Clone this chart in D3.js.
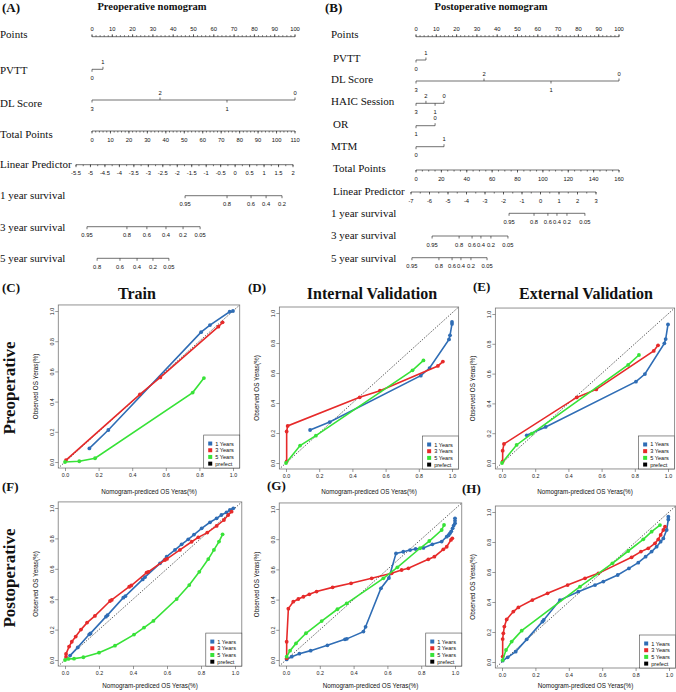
<!DOCTYPE html>
<html lang="en">
<head>
<meta charset="UTF-8" />
<title>Nomograms and calibration</title>
<script src="https://cdn.jsdelivr.net/npm/d3@7"></script>
<style>
  body { margin: 0; background: #fff; }
  svg { display: block; }
</style>
</head>
<body>
<svg id="canvas"></svg>
<script>
// ---------- nomogram data ----------
let pointsTicks = d3.range(0, 101, 10);
let pointsMinor = d3.range(0, 101, 2);

let preTotalTicks = d3.range(0, 111, 10);
let preTotalMinor = d3.range(0, 111, 2);
let preLpTicks = d3.range(-5.5, 2.01, 0.5);
let preLpMinor = d3.range(-5.5, 2.01, 0.25);

let postTotalTicks = d3.range(0, 161, 20);
let postTotalMinor = d3.range(0, 161, 5);
let postLpTicks = d3.range(-7, 3.01, 1);
let postLpMinor = d3.range(-7, 3.01, 0.5);

let prePvttLevels = ["0", "1"];
let prePvttPoints = [0, 5.4];
let preDlLevels = ["3", "2", "1", "0"];
let preDlPoints = [0, 33.5, 66.5, 100];

let postPvttLevels = ["0", "1"];
let postPvttPoints = [0, 4.9];
let postDlLevels = ["3", "2", "1", "0"];
let postDlPoints = [0, 33.5, 66.5, 100];
let postHaicLevels = ["3", "2", "1", "0"];
let postHaicPoints = [0, 4.9, 9.4, 13.8];
let postOrLevels = ["1", "0"];
let postOrPoints = [0, 9.4];
let postMtmLevels = ["0", "1"];
let postMtmPoints = [0, 13.8];

// survival ticks given on the linear predictor axis
let pre1yLabels = ["0.95", "0.8", "0.6", "0.4", "0.2"];
let pre1yLp = [-1.73, -0.28, 0.55, 1.07, 1.62];
let pre3yLabels = ["0.95", "0.8", "0.6", "0.4", "0.2", "0.05"];
let pre3yLp = [-5.12, -3.74, -3.05, -2.39, -1.8, -1.21];
let pre5yLabels = ["0.8", "0.6", "0.4", "0.2", "0.05"];
let pre5yLp = [-4.77, -3.98, -3.39, -2.84, -2.29];

let post1yLabels = ["0.95", "0.8", "0.6", "0.4", "0.2", "0.05"];
let post1yLp = [-1.7, -0.35, 0.4, 0.89, 1.43, 2.4];
let post3yLabels = ["0.95", "0.8", "0.6", "0.4", "0.2", "0.05"];
let post3yLp = [-5.86, -4.4, -3.7, -3.22, -2.68, -1.76];
let post5yLabels = ["0.95", "0.8", "0.6", "0.4", "0.2", "0.05"];
let post5yLp = [-6.95, -5.49, -4.78, -4.3, -3.76, -2.89];

// ---------- calibration data [predicted, observed] ----------
let trainPre1 = [[0.145,0.09],[0.258,0.212],[0.81,0.86],[0.863,0.907],[0.98,0.995],[1.0,1.0]];
let trainPre3 = [[0.006,0.013],[0.446,0.448],[0.567,0.56],[0.913,0.896],[0.938,0.925]];
let trainPre5 = [[0,0],[0.085,0.005],[0.179,0.025],[0.76,0.46],[0.827,0.556]];

let intPre1 = [[0.145,0.22],[0.263,0.273],[0.812,0.582],[0.865,0.633],[0.982,0.824],[0.988,0.851],[1.0,0.927],[1.0,0.94]];
let intPre3 = [[0.004,0.01],[0.004,0.21],[0.01,0.247],[0.444,0.438],[0.566,0.482],[0.915,0.647],[0.945,0.676]];
let intPre5 = [[0,0],[0.085,0.116],[0.18,0.182],[0.762,0.618],[0.828,0.684]];

let extPre1 = [[0.149,0.186],[0.263,0.242],[0.807,0.546],[0.861,0.597],[0.978,0.803],[0.986,0.832],[1.0,0.93]];
let extPre3 = [[0.004,0.01],[0.004,0.083],[0.012,0.128],[0.45,0.44],[0.568,0.494],[0.914,0.752],[0.94,0.79]];
let extPre5 = [[0,0],[0.088,0.121],[0.18,0.197],[0.76,0.658],[0.825,0.725]];

let trainPost1 = [[0.03,0.029],[0.075,0.083],[0.143,0.169],[0.15,0.175],[0.241,0.285],[0.25,0.295],[0.343,0.41],[0.355,0.42],[0.457,0.53],[0.47,0.545],[0.559,0.636],[0.598,0.68],[0.647,0.724],[0.686,0.761],[0.725,0.794],[0.759,0.825],[0.804,0.866],[0.853,0.906],[0.892,0.932],[0.92,0.954],[0.95,0.971],[0.97,0.987],[0.99,0.998]];
let trainPost3 = [[0.006,0.02],[0.006,0.04],[0.024,0.088],[0.04,0.12],[0.063,0.154],[0.094,0.2],[0.13,0.246],[0.176,0.29],[0.265,0.388],[0.275,0.395],[0.378,0.482],[0.39,0.49],[0.48,0.575],[0.49,0.58],[0.588,0.658],[0.6,0.665],[0.676,0.724],[0.745,0.778],[0.784,0.807],[0.837,0.838],[0.892,0.882],[0.935,0.921],[0.96,0.954],[0.98,0.976]];
let trainPost5 = [[0,0],[0.02,0.007],[0.053,0.009],[0.108,0.018],[0.2,0.048],[0.294,0.094],[0.406,0.167],[0.465,0.213],[0.52,0.257],[0.657,0.401],[0.731,0.493],[0.79,0.58],[0.843,0.664],[0.876,0.724],[0.906,0.779],[0.927,0.827]];

let intPost1 = [[0.004,0.004],[0.034,0.022],[0.079,0.042],[0.146,0.062],[0.245,0.097],[0.349,0.137],[0.36,0.14],[0.458,0.188],[0.471,0.22],[0.562,0.475],[0.609,0.543],[0.651,0.706],[0.694,0.717],[0.734,0.728],[0.767,0.735],[0.813,0.742],[0.866,0.766],[0.921,0.784],[0.951,0.817],[0.962,0.826],[0.97,0.839],[0.978,0.852],[0.986,0.872],[0.992,0.89],[1.0,0.905],[1.0,0.922],[1.0,0.938]];
let intPost3 = [[0.004,0.011],[0.004,0.121],[0.014,0.34],[0.043,0.386],[0.073,0.404],[0.103,0.419],[0.138,0.435],[0.181,0.453],[0.276,0.481],[0.385,0.508],[0.507,0.541],[0.625,0.574],[0.684,0.596],[0.724,0.607],[0.842,0.667],[0.878,0.684],[0.931,0.733],[0.951,0.75],[0.976,0.795],[0.984,0.806]];
let intPost5 = [[0.004,0.022],[0.024,0.062],[0.059,0.11],[0.118,0.177],[0.211,0.258],[0.304,0.336],[0.359,0.375],[0.576,0.541],[0.659,0.614],[0.793,0.74],[0.848,0.788],[0.921,0.861],[0.935,0.894]];

let extPost1 = [[0.004,0.009],[0.034,0.031],[0.082,0.069],[0.148,0.151],[0.242,0.269],[0.25,0.28],[0.347,0.413],[0.457,0.469],[0.557,0.513],[0.607,0.536],[0.693,0.58],[0.76,0.624],[0.816,0.662],[0.86,0.702],[0.896,0.736],[0.926,0.769],[0.95,0.802],[0.966,0.824],[0.986,0.88],[0.996,0.95],[0.996,0.969]];
let extPost3 = [[0.004,0.036],[0.004,0.153],[0.008,0.191],[0.014,0.236],[0.028,0.284],[0.068,0.336],[0.098,0.364],[0.182,0.413],[0.273,0.458],[0.393,0.513],[0.497,0.558],[0.577,0.591],[0.776,0.698],[0.832,0.736],[0.876,0.758],[0.916,0.791],[0.936,0.818],[0.95,0.847],[0.966,0.88],[0.976,0.902]];
let extPost5 = [[0.004,0.013],[0.024,0.08],[0.058,0.136],[0.118,0.209],[0.467,0.502],[0.661,0.658],[0.756,0.74],[0.846,0.818],[0.896,0.869],[0.946,0.913]];

let legendLabels = ["1 Years", "3 Years", "5 Years", "prefect"];
let calTicks = [0, 0.2, 0.4, 0.6, 0.8, 1.0];

// ---------- setup ----------
let width = 676;
let height = 692;
let serif = "'Liberation Serif', 'Times New Roman', serif";
let sans = "'Liberation Sans', Arial, sans-serif";
let colors = ["#2F6DB5", "#E62A2A", "#38E238", "#000"];

let svg = d3.select("#canvas").attr("width", width).attr("height", height);

let txt = (g, x, y, s, size, opt = {}) => {
  return g.append("text")
    .attr("x", x).attr("y", y).text(s)
    .attr("font-family", opt.family || sans)
    .attr("font-size", size)
    .attr("font-weight", opt.weight || "normal")
    .attr("text-anchor", opt.anchor || "middle")
    .attr("fill", "#111");
};

let hline = (g, x1, x2, y) => {
  g.append("line").attr("x1", x1).attr("x2", x2).attr("y1", y).attr("y2", y)
    .attr("stroke", "#333").attr("stroke-width", 0.7);
};
let tick = (g, x, y, len) => {
  g.append("line").attr("x1", x).attr("x2", x).attr("y1", y).attr("y2", y + len)
    .attr("stroke", "#333").attr("stroke-width", 0.7);
};
let fmtNum = (v) => String(+v.toFixed(2));

// numeric nomogram axis
let numRow = (g, scale, major, minor, y, above) => {
  let dir = above ? -1 : 1;
  hline(g, scale(major[0]), scale(major[major.length - 1]), y);
  minor.forEach((v) => tick(g, scale(v), y, dir * 1.5));
  major.forEach((v) => {
    tick(g, scale(v), y, dir * 2.5);
    txt(g, scale(v), above ? y - 5.5 : y + 10.5, fmtNum(v), 5.8);
  });
};

// categorical row, labels alternate below / above
let catRow = (g, scale, levels, pts, y) => {
  let xs = pts.map(scale);
  hline(g, d3.min(xs), d3.max(xs), y);
  let order = d3.range(levels.length).sort((i, j) => pts[i] - pts[j]);
  order.forEach((i, k) => {
    let below = k % 2 === 0;
    tick(g, xs[i], y, below ? 2.5 : -2.5);
    txt(g, xs[i], below ? y + 10.5 : y - 5.5, levels[i], 5.8);
  });
};

// survival row, positions from the linear predictor scale
let survRow = (g, lpScale, labels, lps, y) => {
  let xs = lps.map(lpScale);
  hline(g, d3.min(xs), d3.max(xs), y);
  xs.forEach((x, i) => {
    tick(g, x, y, 2.5);
    txt(g, x, y + 10.5, labels[i], 5.8);
  });
};

let rowLabel = (g, x, y, s) => txt(g, x, y, s, 11, { family: serif, anchor: "start" });

// ---------- nomogram A ----------
let drawNomoA = () => {
  let g = svg.append("g");
  txt(g, 2, 12, "(A)", 13, { family: serif, weight: "bold", anchor: "start" });
  txt(g, 152, 10, "Preoperative nomogram", 10.5, { family: serif, weight: "bold" });

  let pts = d3.scaleLinear().domain([0, 100]).range([92, 295]);
  let tot = d3.scaleLinear().domain([0, 110]).range([92, 295]);
  let lp = d3.scaleLinear().domain([-5.5, 2]).range([76, 293]);

  rowLabel(g, 0, 38, "Points");
  numRow(g, pts, pointsTicks, pointsMinor, 36.7, true);
  rowLabel(g, 0, 74, "PVTT");
  catRow(g, pts, prePvttLevels, prePvttPoints, 69.3);
  rowLabel(g, 0, 106.5, "DL Score");
  catRow(g, pts, preDlLevels, preDlPoints, 100);
  rowLabel(g, 0, 138, "Total Points");
  numRow(g, tot, preTotalTicks, preTotalMinor, 131, false);
  rowLabel(g, 0, 168, "Linear Predictor");
  numRow(g, lp, preLpTicks, preLpMinor, 164.7, false);
  rowLabel(g, 0, 199, "1 year survival");
  survRow(g, lp, pre1yLabels, pre1yLp, 195.7);
  rowLabel(g, 0, 230.5, "3 year survival");
  survRow(g, lp, pre3yLabels, pre3yLp, 226.7);
  rowLabel(g, 0, 262, "5 year survival");
  survRow(g, lp, pre5yLabels, pre5yLp, 258.3);
};

// ---------- nomogram B ----------
let drawNomoB = () => {
  let g = svg.append("g");
  txt(g, 325, 12, "(B)", 13, { family: serif, weight: "bold", anchor: "start" });
  txt(g, 491, 10, "Postoperative nomogram", 10.5, { family: serif, weight: "bold" });

  let pts = d3.scaleLinear().domain([0, 100]).range([416, 619]);
  let tot = d3.scaleLinear().domain([0, 160]).range([416, 619]);
  let lp = d3.scaleLinear().domain([-7, 3]).range([411, 596]);

  rowLabel(g, 331, 38, "Points");
  numRow(g, pts, pointsTicks, pointsMinor, 36.7, true);
  rowLabel(g, 333, 61.7, "PVTT");
  catRow(g, pts, postPvttLevels, postPvttPoints, 60);
  rowLabel(g, 331, 83.3, "DL Score");
  catRow(g, pts, postDlLevels, postDlPoints, 81);
  rowLabel(g, 331, 105, "HAIC Session");
  catRow(g, pts, postHaicLevels, postHaicPoints, 103.3);
  rowLabel(g, 333, 128.3, "OR");
  catRow(g, pts, postOrLevels, postOrPoints, 125.7);
  rowLabel(g, 331, 150, "MTM");
  catRow(g, pts, postMtmLevels, postMtmPoints, 146.7);
  rowLabel(g, 333, 171.7, "Total Points");
  numRow(g, tot, postTotalTicks, postTotalMinor, 170, false);
  rowLabel(g, 333, 195, "Linear Predictor");
  numRow(g, lp, postLpTicks, postLpMinor, 192, false);
  rowLabel(g, 331, 216.5, "1 year survival");
  survRow(g, lp, post1yLabels, post1yLp, 213.3);
  rowLabel(g, 331, 239, "3 year survival");
  survRow(g, lp, post3yLabels, post3yLp, 236);
  rowLabel(g, 331, 261.5, "5 year survival");
  survRow(g, lp, post5yLabels, post5yLp, 257.7);
};

// ---------- calibration panels ----------
let drawCal = (p) => {
  let g = svg.append("g");
  let x = d3.scaleLinear().domain([0, 1]).range([p.x0, p.x1]);
  let y = d3.scaleLinear().domain([0, 1]).range([p.y0, p.y1]);
  let L = x(-0.04), R = x(1.04), T = y(1.04), B = y(-0.04);

  let clipId = "clip" + p.id;
  g.append("clipPath").attr("id", clipId).append("rect")
    .attr("x", L).attr("y", T).attr("width", R - L).attr("height", B - T);
  let plot = g.append("g").attr("clip-path", "url(#" + clipId + ")");

  plot.append("line")
    .attr("x1", x(-0.04)).attr("y1", y(-0.04)).attr("x2", x(1.04)).attr("y2", y(1.04))
    .attr("stroke", "#000").attr("stroke-width", 0.8).attr("stroke-dasharray", "1,1.5");

  let line = d3.line().x((d) => x(d[0])).y((d) => y(d[1]));
  p.series.forEach((s, i) => {
    plot.append("path").datum(s).attr("d", line)
      .attr("fill", "none").attr("stroke", colors[i]).attr("stroke-width", 1.6);
    plot.selectAll(null).data(s).enter().append("circle")
      .attr("cx", (d) => x(d[0])).attr("cy", (d) => y(d[1])).attr("r", 1.9)
      .attr("fill", colors[i]);
  });

  g.append("rect").attr("x", L).attr("y", T).attr("width", R - L).attr("height", B - T)
    .attr("fill", "none").attr("stroke", "#777").attr("stroke-width", 0.8);

  let xAxis = d3.axisBottom(x).tickValues(calTicks).tickFormat(d3.format(".1f"))
    .tickSize(3).tickPadding(2.5);
  let xg = g.append("g").attr("transform", "translate(0," + B + ")").call(xAxis);
  let yAxis = d3.axisLeft(y).tickValues(calTicks).tickFormat(d3.format(".1f")).tickSize(3);
  let yg = g.append("g").attr("transform", "translate(" + L + ",0)").call(yAxis);
  [xg, yg].forEach((a) => {
    a.select(".domain").remove();
    a.selectAll("line").attr("stroke", "#555").attr("stroke-width", 0.6);
    a.selectAll("text").attr("font-family", sans).attr("font-size", 5.3).attr("fill", "#222");
  });
  yg.selectAll("text").attr("x", null).attr("dy", null).attr("text-anchor", "middle")
    .attr("transform", "translate(-4.5,0) rotate(-90)");

  txt(g, (x(0) + x(1)) / 2, p.xTitleY, "Nomogram-prediced OS Yeras(%)", 6.3);
  txt(g, 0, 0, "Observed OS Yeras(%)", 6.3)
    .attr("transform", "translate(" + (L - 20) + "," + (T + B) / 2 + ") rotate(-90)");

  // legend
  let lw = 36, lh = 33;
  let lg = g.append("g").attr("transform", "translate(" + (R - lw) + "," + (B - lh) + ")");
  lg.append("rect").attr("width", lw).attr("height", lh)
    .attr("fill", "#fff").attr("stroke", "#444").attr("stroke-width", 0.6);
  legendLabels.forEach((s, i) => {
    let cy = 8.5 + i * 6.7;
    lg.append("rect").attr("x", 4.5).attr("y", cy - 2).attr("width", 4).attr("height", 4)
      .attr("fill", colors[i]);
    txt(lg, 11.5, cy + 2, s, 5.6, { anchor: "start" });
  });

  txt(svg, p.labX, p.labY, p.tag, 13, { family: serif, weight: "bold", anchor: "start" });
  if (p.title) txt(svg, p.titleX, 299, p.title, 16, { family: serif, weight: "bold" });
};

let panels = [
  { id: "C", tag: "(C)", labX: 2, labY: 292, title: "Train", titleX: 137, xTitleY: 494,
    x0: 65, x1: 233, y0: 462, y1: 311, series: [trainPre1, trainPre3, trainPre5] },
  { id: "D", tag: "(D)", labX: 248, labY: 292, title: "Internal Validation", titleX: 372, xTitleY: 494,
    x0: 286, x1: 452, y0: 463, y1: 313, series: [intPre1, intPre3, intPre5] },
  { id: "E", tag: "(E)", labX: 473, labY: 291, title: "External  Validation", titleX: 586, xTitleY: 494,
    x0: 502, x1: 668, y0: 463, y1: 314, series: [extPre1, extPre3, extPre5] },
  { id: "F", tag: "(F)", labX: 2, labY: 491, xTitleY: 688, x0: 65, x1: 235, y0: 660, y1: 508,
    series: [trainPost1, trainPost3, trainPost5] },
  { id: "G", tag: "(G)", labX: 267, labY: 490, xTitleY: 688, x0: 286, x1: 455, y0: 660, y1: 509,
    series: [intPost1, intPost3, intPost5] },
  { id: "H", tag: "(H)", labX: 462, labY: 493, xTitleY: 688, x0: 502, x1: 669, y0: 662, y1: 512,
    series: [extPost1, extPost3, extPost5] },
];

drawNomoA();
drawNomoB();
panels.forEach(drawCal);

txt(svg, 0, 0, "Preoperative", 17, { family: serif, weight: "bold" })
  .attr("transform", "translate(15,388) rotate(-90)");
txt(svg, 0, 0, "Postoperative", 17, { family: serif, weight: "bold" })
  .attr("transform", "translate(15,578) rotate(-90)");
</script>
</body>
</html>
